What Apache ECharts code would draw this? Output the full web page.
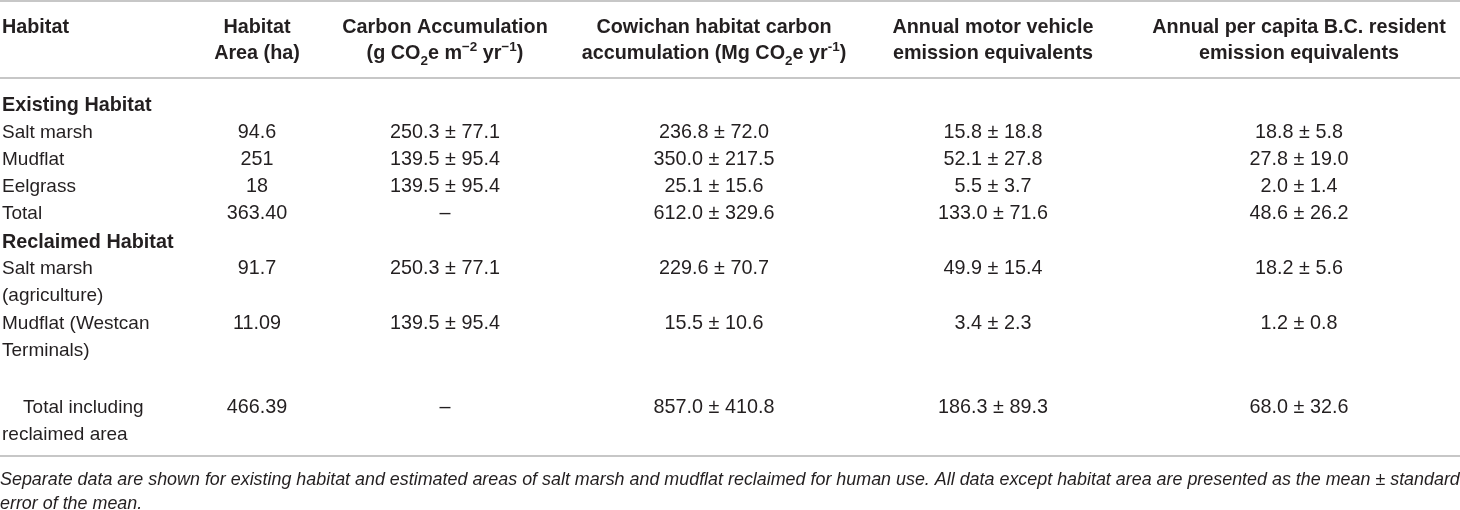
<!DOCTYPE html>
<html>
<head>
<meta charset="utf-8">
<script src="https://cdn.jsdelivr.net/npm/echarts@6/dist/echarts.min.js"></script>
<style>
  html, body { margin: 0; padding: 0; background: #fff; }
  #chart { width: 1460px; height: 510px; }
</style>
</head>
<body>
<div id="chart"></div>
<script>
// table content ({sub|..} / {sup|..} mark sub- and superscripts)
const headers = [
  ['Habitat'],
  ['Habitat', 'Area (ha)'],
  ['Carbon Accumulation', '(g CO{sub|2}e m{sup|−2} yr{sup|−1})'],
  ['Cowichan habitat carbon', 'accumulation (Mg CO{sub|2}e yr{sup|-1})'],
  ['Annual motor vehicle', 'emission equivalents'],
  ['Annual per capita B.C. resident', 'emission equivalents']
];
const groups = ['Existing Habitat', 'Reclaimed Habitat'];
const habitats = [
  'Salt marsh', 'Mudflat', 'Eelgrass', 'Total',
  'Salt marsh\n(agriculture)', 'Mudflat (Westcan\nTerminals)', '    Total including\nreclaimed area'
];
const areas = ['94.6', '251', '18', '363.40', '91.7', '11.09', '466.39'];
const carbonAccum = ['250.3 ± 77.1', '139.5 ± 95.4', '139.5 ± 95.4', '–', '250.3 ± 77.1', '139.5 ± 95.4', '–'];
const cowichanCarbon = ['236.8 ± 72.0', '350.0 ± 217.5', '25.1 ± 15.6', '612.0 ± 329.6', '229.6 ± 70.7', '15.5 ± 10.6', '857.0 ± 410.8'];
const vehicleEquiv = ['15.8 ± 18.8', '52.1 ± 27.8', '5.5 ± 3.7', '133.0 ± 71.6', '49.9 ± 15.4', '3.4 ± 2.3', '186.3 ± 89.3'];
const residentEquiv = ['18.8 ± 5.8', '27.8 ± 19.0', '2.0 ± 1.4', '48.6 ± 26.2', '18.2 ± 5.6', '1.2 ± 0.8', '68.0 ± 32.6'];
const caption = [
  'Separate data are shown for existing habitat and estimated areas of salt marsh and mudflat reclaimed for human use. All data except habitat area are presented as the mean ± standard',
  'error of the mean.'
];

// layout (pixel units on the hidden axes)
const colX = [2, 257, 445, 714, 993, 1299];
const headerY = [28, 54];
const groupY = [106, 243];
const rowY = [133, 160, 187, 214, 269, 324, 408];
const ruleY = [1, 78, 456];
const captionY = [480, 504];
const LINE_H = 27;
const INK = '#231f20';
const FONT = '"Liberation Sans", Arial, Helvetica, sans-serif';

// build cell list
const cells = [];
headers.forEach((lines, c) => {
  lines.forEach((t, i) => {
    cells.push({ x: colX[c], y: headerY[i], text: t, align: c === 0 ? 'left' : 'center', weight: 'bold', size: 19.8 });
  });
});
groups.forEach((g, i) => {
  cells.push({ x: colX[0], y: groupY[i], text: g, align: 'left', weight: 'bold', size: 19.8 });
});
const columns = [habitats, areas, carbonAccum, cowichanCarbon, vehicleEquiv, residentEquiv];
columns.forEach((col, c) => {
  col.forEach((t, r) => {
    cells.push({ x: colX[c], y: rowY[r], text: t, align: c === 0 ? 'left' : 'center', weight: 'normal', size: c === 0 ? 19 : 19.8 });
  });
});
caption.forEach((t, i) => {
  cells.push({ x: 0, y: captionY[i], text: t, align: 'left', weight: 'normal', style: 'italic', size: 17.9 });
});

const chart = echarts.init(document.getElementById('chart'), null, { renderer: 'canvas' });

const option = {
  animation: false,
  backgroundColor: '#fff',
  grid: { left: 0, right: 0, top: 0, bottom: 0 },
  xAxis: { type: 'value', min: 0, max: 1460, show: false },
  yAxis: { type: 'value', min: 0, max: 510, inverse: true, show: false },
  series: [
    {
      // horizontal rules
      type: 'custom',
      data: ruleY.map(y => [0, y]),
      renderItem: (params, api) => {
        const a = api.coord([0, api.value(1)]);
        const b = api.coord([1460, api.value(1)]);
        return {
          type: 'line',
          shape: { x1: a[0], y1: a[1], x2: b[0], y2: b[1] },
          style: { stroke: '#b4b4b4', lineWidth: 1.6 }
        };
      }
    },
    {
      // table text
      type: 'custom',
      data: cells.map(d => [d.x, d.y]),
      renderItem: (params, api) => {
        const d = cells[params.dataIndex];
        const p = api.coord([api.value(0), api.value(1)]);
        const small = d.size * 0.68;
        return {
          type: 'text',
          x: p[0],
          y: p[1] - LINE_H / 2,
          style: {
            text: d.text,
            fill: INK,
            fontSize: d.size,
            fontWeight: d.weight,
            fontStyle: d.style || 'normal',
            fontFamily: FONT,
            lineHeight: LINE_H,
            align: d.align,
            verticalAlign: 'top',
            rich: {
              sub: { fontSize: small, fontWeight: d.weight, fontFamily: FONT, fill: INK, lineHeight: 20, verticalAlign: 'bottom' },
              sup: { fontSize: small, fontWeight: d.weight, fontFamily: FONT, fill: INK, lineHeight: 15, verticalAlign: 'top' }
            }
          }
        };
      }
    }
  ]
};

chart.setOption(option);
window.addEventListener('resize', () => chart.resize());
</script>
</body>
</html>
